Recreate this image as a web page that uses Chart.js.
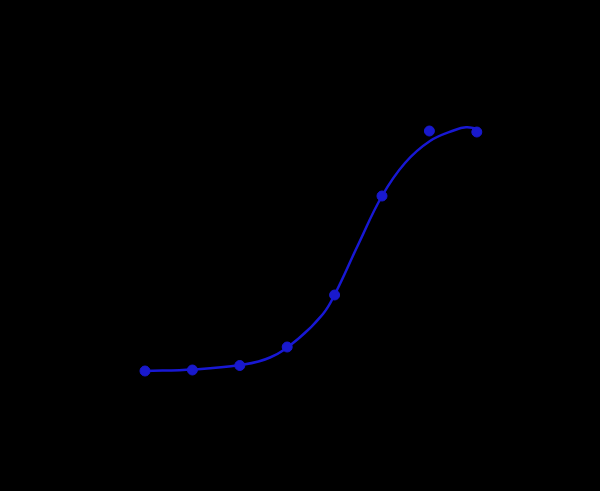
<!DOCTYPE html>
<html>
<head>
<meta charset="utf-8">
<script src="https://cdn.jsdelivr.net/npm/chart.js@4"></script>
<style>
html,body{margin:0;padding:0;background:#000;}
#c{display:block;background:#000;}
</style>
</head>
<body>
<canvas id="c" width="600" height="491"></canvas>
<script>
// Measured standard points (x = dilution step on log scale, y = response)
const pointX = [1, 2, 3, 4, 5, 6, 7, 8];
const pointY = [0.29, 0.30, 0.345, 0.53, 1.05, 2.04, 2.69, 2.68];

// Fitted curve
const curveX = [1.000, 2.013, 3.004, 3.637, 4.228, 4.755, 5.008, 5.494, 6.000, 6.485, 7.013, 7.540, 7.772, 8.004];
const curveY = [0.29, 0.305, 0.35, 0.425, 0.61, 0.86, 1.06, 1.55, 2.04, 2.37, 2.59, 2.70, 2.727, 2.715];

const xRange = [0, 9];
const yRange = [0, 3];

const curveData = curveX.map((x, i) => ({x: x, y: curveY[i]}));
const pointData = pointX.map((x, i) => ({x: x, y: pointY[i]}));

new Chart(document.getElementById('c'), {
  type: 'scatter',
  data: {
    datasets: [
      {
        label: 'Fit',
        data: curveData,
        showLine: true,
        borderColor: 'rgb(24,24,212)',
        borderWidth: 2.5,
        pointRadius: 0,
        tension: 0.4,
        fill: false,
        order: 2
      },
      {
        label: 'Standards',
        data: pointData,
        showLine: false,
        backgroundColor: 'rgb(25,25,205)',
        borderColor: 'rgb(25,25,205)',
        pointRadius: 5,
        pointHoverRadius: 5,
        order: 1
      }
    ]
  },
  options: {
    responsive: false,
    animation: false,
    devicePixelRatio: 1,
    layout: { padding: { left: 97.6, right: 75.8, top: 100, bottom: 91 } },
    plugins: {
      legend: { display: false },
      tooltip: { enabled: false },
      title: { display: false }
    },
    scales: {
      x: { type: 'linear', min: xRange[0], max: xRange[1], display: false },
      y: { type: 'linear', min: yRange[0], max: yRange[1], display: false }
    },
    clip: false
  }
});
</script>
</body>
</html>
